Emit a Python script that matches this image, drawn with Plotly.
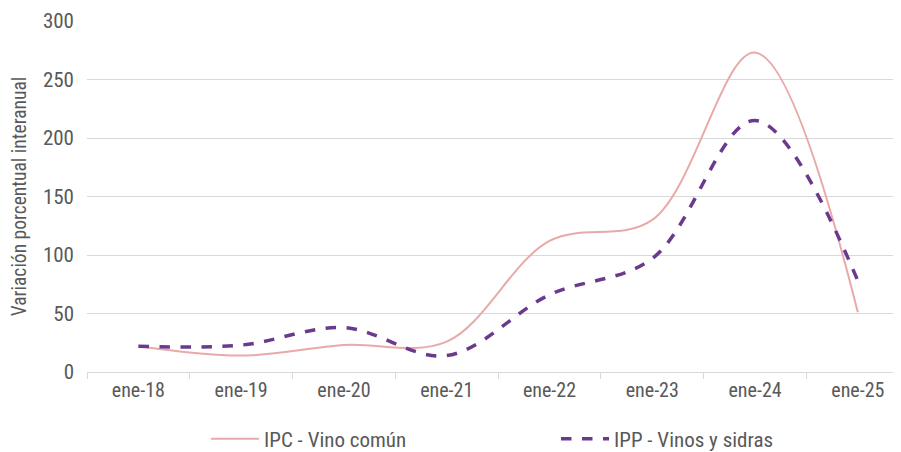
import plotly.graph_objects as go

categorias = ["ene-18", "ene-19", "ene-20", "ene-21", "ene-22", "ene-23", "ene-24", "ene-25"]
ipc_vino_comun = [22, 14, 23, 26, 112, 130, 273, 51]
ipp_vinos_sidras = [22, 23, 38, 14, 66, 97, 215, 78]
y_ticks = [0, 50, 100, 150, 200, 250, 300]

FONT = "Roboto Condensed, sans-serif"
GRAY = "#595959"

# The page body has an 8px default margin, so the figure is 8px smaller than the window.
W, H = 893, 444

fig = go.Figure()
fig.add_trace(go.Scatter(
    x=categorias, y=ipc_vino_comun, name="IPC - Vino común", legend="legend",
    mode="lines", line=dict(color="#E8AAA8", width=2, shape="spline", smoothing=1.0),
))
fig.add_trace(go.Scatter(
    x=categorias, y=ipp_vinos_sidras, name="IPP - Vinos y sidras", legend="legend2",
    mode="lines", line=dict(color="#6B3A8E", width=3.5, dash="dash", shape="spline", smoothing=1.0),
))

legend_common = dict(
    orientation="h", xref="container", yref="container", xanchor="left", yanchor="middle",
    font=dict(family=FONT, size=21, color=GRAY), bgcolor="rgba(0,0,0,0)", itemwidth=48,
)

fig.update_layout(
    width=W, height=H,
    margin=dict(l=79, r=0, t=13, b=80, autoexpand=False),
    paper_bgcolor="white", plot_bgcolor="white",
    font=dict(family=FONT, size=20, color=GRAY),
    showlegend=True,
    legend=dict(x=198 / W, y=(H - 431) / H, **legend_common),
    legend2=dict(x=548 / W, y=(H - 431) / H, **legend_common),
    xaxis=dict(
        type="category", range=[-0.5, 7.42],
        showgrid=False, showline=True, linecolor="#D9D9D9", linewidth=1,
        ticks="outside", tickson="boundaries", ticklen=6, tickcolor="#D9D9D9",
        tickfont=dict(family=FONT, size=20, color=GRAY),
        fixedrange=True,
    ),
    yaxis=dict(
        range=[0, 300], tickvals=y_ticks,
        showgrid=True, gridcolor="#D9D9D9", gridwidth=1,
        zeroline=False, showline=False,
        tickfont=dict(family=FONT, size=21, color=GRAY),
        ticklabelstandoff=12,
        title=dict(text="Variación porcentual interanual", font=dict(family=FONT, size=19.5, color=GRAY), standoff=12),
    ),
)

fig.write_html("out.html")
